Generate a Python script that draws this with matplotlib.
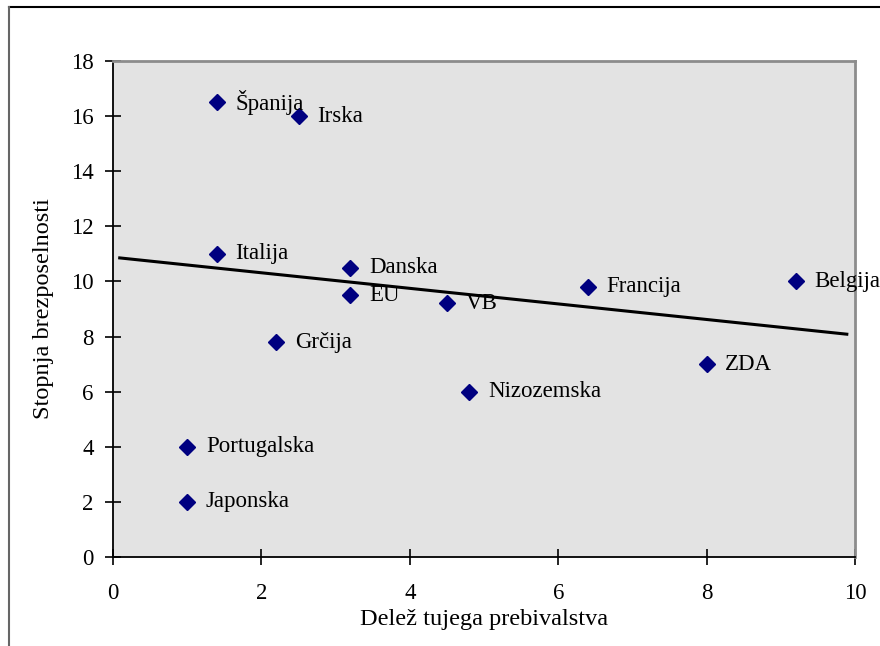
import numpy as np
import matplotlib
matplotlib.use('Agg')
import matplotlib.pyplot as plt
from matplotlib.lines import Line2D

# data
countries = ['Španija', 'Irska', 'Italija', 'Danska', 'EU', 'VB', 'Francija',
             'Belgija', 'ZDA', 'Nizozemska', 'Grčija', 'Portugalska', 'Japonska']
foreign_share = [1.4, 2.5, 1.4, 3.2, 3.2, 4.5, 6.4, 9.2, 8.0, 4.8, 2.2, 1.0, 1.0]
unemployment = [16.5, 16.0, 11.0, 10.5, 9.5, 9.2, 9.8, 10.0, 7.0, 6.0, 7.8, 4.0, 2.0]

# trend line (as drawn in the reference)
trend_x = [0.07, 9.91]
trend_y = [10.86, 8.08]

x_ticks = [0, 2, 4, 6, 8, 10]
y_ticks = [0, 2, 4, 6, 8, 10, 12, 14, 16, 18]

plt.rcParams['font.family'] = ['Liberation Serif', 'DejaVu Serif']
plt.rcParams['font.size'] = 16.5

fig = plt.figure(figsize=(8.8, 6.46), dpi=100)
ax = fig.add_axes([113/880, 1 - 557/646, (855 - 113)/880, (557 - 61)/646])
ax.set_facecolor('#e3e3e3')

ax.plot(trend_x, trend_y, color='black', lw=2.2, solid_capstyle='butt', zorder=2)
ax.plot(foreign_share, unemployment, linestyle='none', marker='D', markersize=8.5,
        color='#000080', zorder=3)

for name, x, y in zip(countries, foreign_share, unemployment):
    ax.annotate(name, (x, y), xytext=(13.5, 0), textcoords='offset points',
                va='center', ha='left', fontsize=16.5)

ax.set_xlim(0, 10)
ax.set_ylim(0, 18)
ax.set_xticks(x_ticks)
ax.set_yticks(y_ticks)
ax.tick_params(direction='inout', length=12, width=1.2, labelsize=16.5, pad=8)
ax.tick_params(axis='x', pad=13)

for side in ['left', 'bottom']:
    ax.spines[side].set_color('black')
    ax.spines[side].set_linewidth(1.3)
for side in ['top', 'right']:
    ax.spines[side].set_color('#8c8c8c')
    ax.spines[side].set_linewidth(2)

ax.set_xlabel('Delež tujega prebivalstva', fontsize=17.5, labelpad=3)
ax.set_ylabel('Stopnja brezposelnosti', fontsize=17.5, labelpad=12)

# outer chart frame (top and left edges visible)
fig.add_artist(Line2D([9/880, 1], [1 - 7/646, 1 - 7/646], color='black', lw=1.5))
fig.add_artist(Line2D([9/880, 9/880], [0, 1 - 7/646], color='#666666', lw=1.5))

fig.savefig('out.png', dpi=100)
